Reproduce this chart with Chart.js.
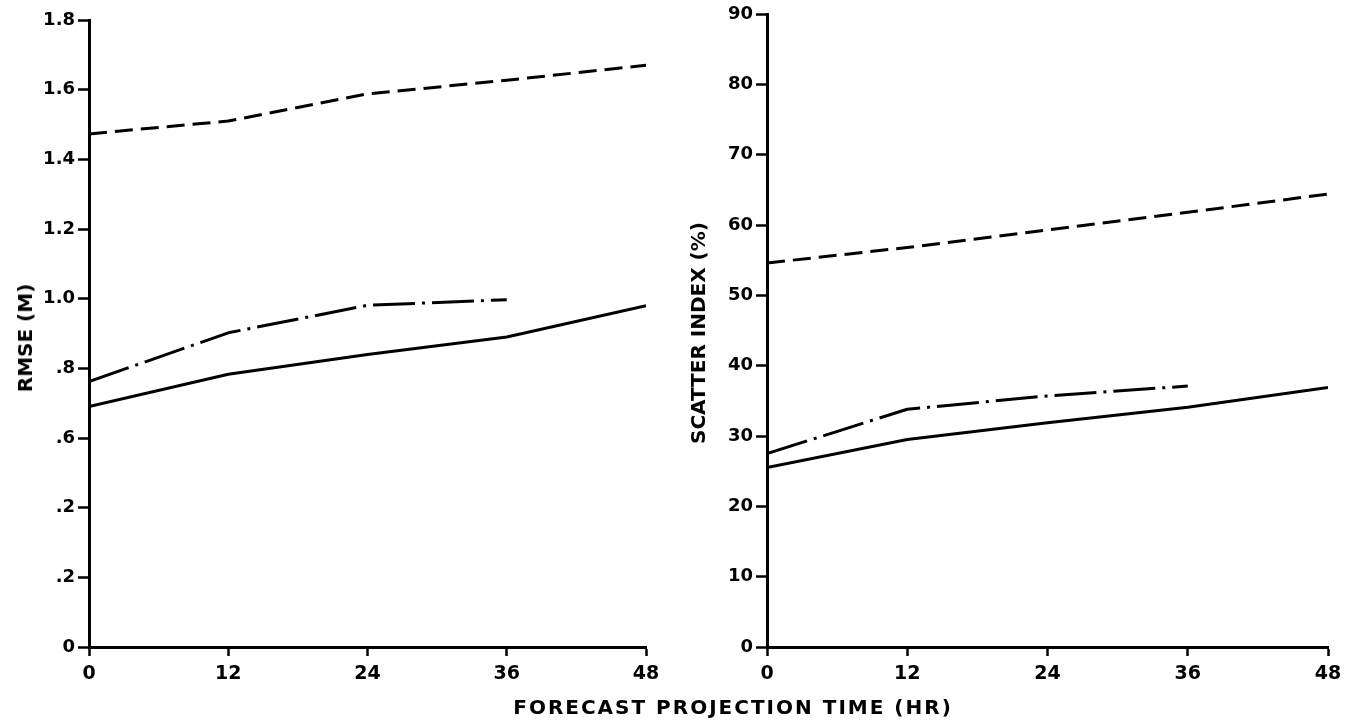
<!DOCTYPE html>
<html><head><meta charset="utf-8">
<script src="https://cdn.jsdelivr.net/npm/chart.js@4.4.0/dist/chart.umd.min.js"></script>
<style>
html,body{margin:0;padding:0;background:#fff;width:1357px;height:725px;overflow:hidden;}
#wrapL{position:absolute;left:0;top:0;width:680px;height:725px;}
#wrapR{position:absolute;left:680px;top:0;width:677px;height:725px;}
.t{position:absolute;font-family:"DejaVu Sans",sans-serif;font-weight:bold;font-size:20px;color:#000;white-space:nowrap;line-height:1;transform-origin:center center;}
</style></head><body>
<div id="wrapL"><canvas id="cL" width="680" height="725"></canvas></div>
<div id="wrapR"><canvas id="cR" width="677" height="725"></canvas></div>
<div class="t" id="tL" style="left:25px;top:338px;transform:translate(-50%,-50%) rotate(-90deg);">RMSE (M)</div>
<div class="t" id="tR" style="left:698px;top:333px;transform:translate(-50%,-50%) rotate(-90deg);">SCATTER INDEX (%)</div>
<div class="t" id="tB" style="left:733px;top:707px;letter-spacing:2px;transform:translate(-50%,-50%);">FORECAST PROJECTION TIME (HR)</div>
<script>
// ---- data ----
const hours = [0, 12, 24, 36, 48];
const rmseDashed = [1.473, 1.51, 1.588, 1.627, 1.67];
const rmseDashDot = [0.762, 0.902, 0.981, 0.997];
const rmseSolid = [0.69, 0.783, 0.84, 0.89, 0.98];
const siDashed = [54.6, 56.8, 59.3, 61.8, 64.4];
const siDashDot = [27.5, 33.8, 35.7, 37.1];
const siSolid = [25.5, 29.5, 31.9, 34.1, 36.9];
const rmseTickValues = [0, 0.2, 0.4, 0.6, 0.8, 1.0, 1.2, 1.4, 1.6, 1.8];
const rmseTickLabels = ['0', '.2', '.2', '.6', '.8', '1.0', '1.2', '1.4', '1.6', '1.8'];
const siTickValues = [0, 10, 20, 30, 40, 50, 60, 70, 80, 90];
const siTickLabels = ['0', '10', '20', '30', '40', '50', '60', '70', '80', '90'];
const hourTickLabels = ['0', '12', '24', '36', '48'];

function pts(arr) { return arr.map((v, i) => ({x: hours[i], y: v})); }

const DASH = [18, 8];
const DASHDOT = [42, 7, 3, 7];

function ds(arr, dash) {
  return {data: pts(arr), borderColor: '#000', borderWidth: 3, borderDash: dash,
    pointRadius: 0, tension: 0, fill: false, borderCapStyle: 'butt', borderJoinStyle: 'round'};
}

function makeChart(id, sets, yVals, yLabels, yMax, yWidth, pad) {
  const tickFont = {family: '"DejaVu Sans", sans-serif', weight: 'bold', size: 18};
  return new Chart(document.getElementById(id), {
    type: 'line',
    data: {datasets: sets},
    options: {
      responsive: false, animation: false,
      layout: {padding: pad},
      plugins: {legend: {display: false}, tooltip: {enabled: false}},
      scales: {
        x: {
          type: 'linear', min: 0, max: 48,
          afterBuildTicks: s => { s.ticks = hours.map(v => ({value: v})); },
          afterFit: s => { s.height = 78; },
          border: {display: true, color: '#000', width: 3},
          grid: {display: true, drawOnChartArea: false, drawTicks: true, tickLength: 9, tickWidth: 2.5, tickColor: '#000', color: '#000'},
          ticks: {color: '#000', padding: 7, maxRotation: 0, autoSkip: false,
            font: {family: '"DejaVu Sans", sans-serif', weight: 'bold', size: 19},
            callback: (v, i) => hourTickLabels[i]}
        },
        y: {
          type: 'linear', min: 0, max: yMax,
          afterBuildTicks: s => { s.ticks = yVals.map(v => ({value: v})); },
          afterFit: s => { s.width = yWidth; },
          border: {display: true, color: '#000', width: 3},
          grid: {display: true, drawOnChartArea: false, drawTicks: true, tickLength: 11, tickWidth: 2.5, tickColor: '#000', color: '#000'},
          ticks: {color: '#000', padding: 3, autoSkip: false, font: tickFont,
            callback: (v, i) => yLabels[i]}
        }
      }
    }
  });
}

makeChart('cL', [ds(rmseDashed, DASH), ds(rmseDashDot, DASHDOT), ds(rmseSolid, [])],
  rmseTickValues, rmseTickLabels, 1.8, 89, {left: 0, top: 20, right: 34, bottom: 0});
makeChart('cR', [ds(siDashed, DASH), ds(siDashDot, DASHDOT), ds(siSolid, [])],
  siTickValues, siTickLabels, 90, 87, {left: 0, top: 14, right: 29, bottom: 0});
</script>
</body></html>
